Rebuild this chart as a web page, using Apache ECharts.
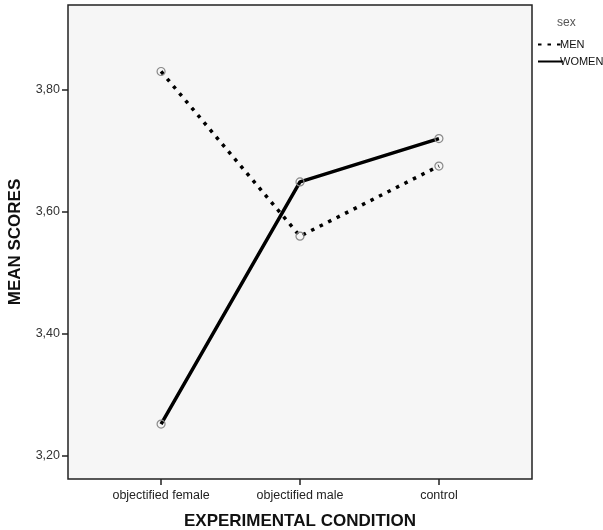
<!DOCTYPE html>
<html><head><meta charset="utf-8">
<script src="https://cdn.jsdelivr.net/npm/echarts@6/dist/echarts.min.js"></script>
<style>html,body{margin:0;padding:0;background:#fff}#c{width:603px;height:530px}</style>
</head><body><div id="c"></div>
<script>
const categories = ['objectified female', 'objectified male', 'control'];
const menValues = [3.830, 3.560, 3.675];
const womenValues = [3.252, 3.649, 3.720];
const yTicks = [3.20, 3.40, 3.60, 3.80];
const seriesNames = ['MEN', 'WOMEN'];

const chart = echarts.init(document.getElementById('c'));
const font = 'Liberation Sans, Arial, sans-serif';
function pts(vals){ return vals.map((v,i)=>[i,v]); }
const symStyle = { color: 'rgba(0,0,0,0)', borderColor: '#8a8a8a', borderWidth: 1.2 };
chart.setOption({
  animation: false,
  grid: { left: 68, right: 71, top: 5, bottom: 51, outerBoundsMode: 'none', containLabel: false, show: true, backgroundColor: '#f6f6f6', borderColor: '#222', borderWidth: 1.5 },
  legend: {
    orient: 'vertical', left: 532, top: 34, itemWidth: 25, itemHeight: 4, itemGap: 6,
    data: seriesNames,
    textStyle: { fontFamily: font, fontSize: 11, color: '#111', padding: [0,0,0,-8] },
    itemStyle: { opacity: 0 }
  },
  graphic: [{ type: 'text', left: 557, top: 17, style: { text: 'sex', fontFamily: font, fontSize: 12, fill: '#555' } }],
  xAxis: {
    type: 'value', min: -0.67, max: 2.67,
    name: 'EXPERIMENTAL CONDITION', nameLocation: 'middle', nameGap: 34,
    nameTextStyle: { fontFamily: font, fontSize: 17, fontWeight: 'bold', color: '#111' },
    axisLine: { show: false, onZero: false },
    splitLine: { show: false },
    axisTick: { show: true, length: 6, inside: false, lineStyle: { color: '#222', width: 1.5 }, customValues: [0,1,2] },
    axisLabel: { customValues: [0,1,2], formatter: v => categories[Math.round(v)], fontFamily: font, fontSize: 12.5, color: '#222', margin: 10 }
  },
  yAxis: {
    type: 'value', min: 3.162, max: 3.939,
    name: 'MEAN SCORES', nameLocation: 'middle', nameGap: 44,
    nameTextStyle: { fontFamily: font, fontSize: 17, fontWeight: 'bold', color: '#111' },
    axisLine: { show: false, onZero: false },
    splitLine: { show: false },
    axisTick: { show: true, length: 6, lineStyle: { color: '#222', width: 1.5 }, customValues: yTicks },
    axisLabel: { customValues: yTicks, formatter: v => v.toFixed(2).replace('.', ','), fontFamily: font, fontSize: 12.5, color: '#333', margin: 8 }
  },
  series: [
    { name: seriesNames[0], type: 'line', data: pts(menValues), symbol: 'circle', symbolSize: 8,
      itemStyle: symStyle, lineStyle: { color: '#000', width: 3.5, type: [3.5, 6], cap: 'butt' }, z: 3 },
    { name: seriesNames[1], type: 'line', data: pts(womenValues), symbol: 'circle', symbolSize: 8,
      itemStyle: symStyle, lineStyle: { color: '#000', width: 3.5, type: 'solid' }, z: 3 }
  ]
});
</script></body></html>
